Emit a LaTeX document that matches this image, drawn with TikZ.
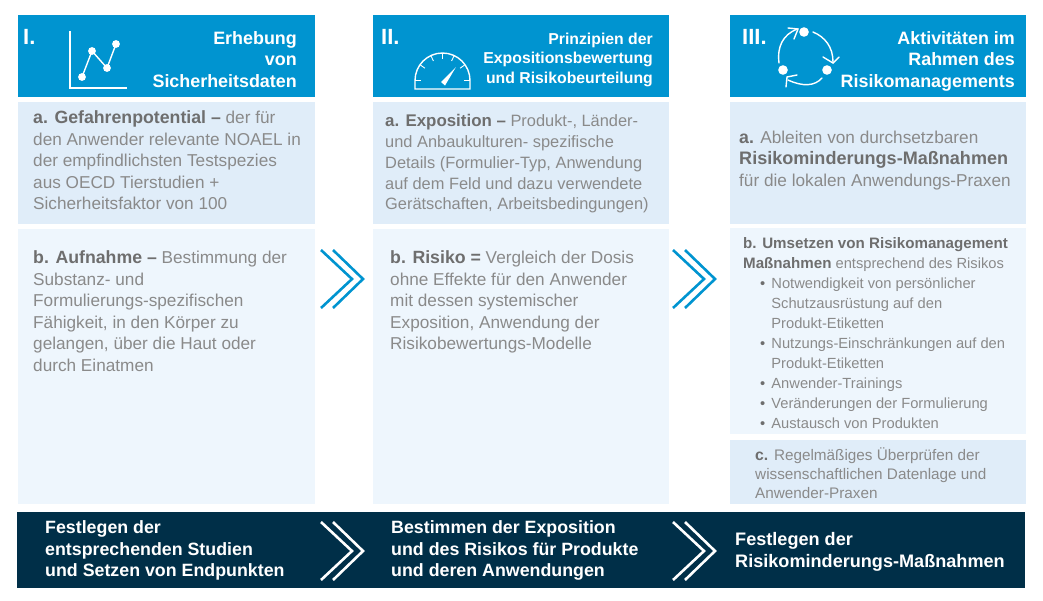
\documentclass[tikz,border=0pt]{standalone}
\usepackage{fontspec}
\setmainfont{Liberation Sans}
\newfontfamily\bbf[Scale=1.03]{Liberation Sans}
\newfontfamily\bbg[Scale=1.05]{Liberation Sans}
\definecolor{hdr}{HTML}{0094D0}
\definecolor{pa}{HTML}{E0EDF9}
\definecolor{pb}{HTML}{EEF6FD}
\definecolor{navy}{HTML}{002F48}
\definecolor{txt}{HTML}{8A8A8A}
\definecolor{bld}{HTML}{6E6E6E}
\newcommand{\B}[1]{{\bbf\bfseries\color{bld}#1}}
\newcommand{\G}[1]{{\bbg\bfseries\color{bld}#1}}
\newcommand{\Bu}{\makebox[11.2pt][l]{\color{bld}•}}
\newcommand{\Chev}[3]{%
 \draw[#3,line width=2.6pt,miter limit=10] (#1,#2-29) -- (#1+31,#2) -- (#1,#2+29);
 \draw[#3,line width=2.6pt,miter limit=10] (#1+12,#2-29) -- (#1+42,#2) -- (#1+12,#2+29);}
\tikzset{
 body/.style={inner sep=0pt,anchor=north west,align=left,text=txt,font=\fontsize{17.2}{21.6}\selectfont},
 small/.style={body,font=\fontsize{14.7}{20}\selectfont},
 smallc/.style={body,font=\fontsize{15.3}{19}\selectfont},
 head/.style={inner sep=0pt,anchor=north east,align=right,text=white,font=\bfseries\fontsize{17.9}{21.6}\selectfont},
 headb/.style={head,font=\bfseries\fontsize{15.8}{19.6}\selectfont},
 num/.style={inner sep=0pt,anchor=north west,text=white,font=\bfseries\fontsize{22}{24}\selectfont},
 foot/.style={inner sep=0pt,anchor=north west,align=left,text=white,font=\bfseries\fontsize{17.8}{21.6}\selectfont},
 icon/.style={draw=white,line width=1.4pt},
 iconthin/.style={draw=white,line width=0.9pt},
}
\begin{document}
\begin{tikzpicture}[x=1pt,y=-1pt]
\useasboundingbox (0,0) rectangle (1043,600);
% headers
\fill[hdr] (18,15) rectangle (315,97);
\fill[hdr] (373,15) rectangle (669,97);
\fill[hdr] (730,15) rectangle (1026,97);
% panels
\fill[pa] (18,102) rectangle (315,224);
\fill[pb] (18,229) rectangle (315,504);
\fill[pa] (373,102) rectangle (669,224);
\fill[pb] (373,229) rectangle (669,504);
\fill[pa] (730,102) rectangle (1026,224);
\fill[pb] (730,228) rectangle (1026,434);
\fill[pa] (730,440) rectangle (1026,504);
\fill[navy] (17,512) rectangle (1025,588);
% numerals
\node[num] (n1) at (23,29) {I.};
\node[num] (n2) at (381,29) {II.};
\node[num] (n3) at (742,29) {III.};
% header text
\node[head] (h1) at (297,31) {Erhebung\\von\\Sicherheitsdaten};
\node[headb] (h2) at (653,32.5) {Prinzipien der\\Expositionsbewertung\\und Risikobeurteilung};
\node[head] (h3) at (1015,31) {Aktivitäten im\\Rahmen des\\Risikomanagements};
% icon I
\draw[icon] (70,31) -- (70,88) -- (127,88);
\draw[icon] (82,77) -- (92,51) -- (107,68) -- (116,44);
\foreach \p in {(82,77),(92,51),(107,68),(116,44)} \fill[white] \p circle (3.9);
% icon II
\draw[icon] (415,89) -- (470,89) -- (470,80.5) arc (0:-180:27.5) -- cycle;
\foreach \a in {0,35,65,90,115,145,180} \draw[iconthin] (442.5,80.5) ++(-\a:27.5) -- ++(-\a:-6);
\fill[white] (441,82) -- (456,67) -- (445,85.5) -- cycle;
% icon III
\fill[white] (804,32) circle (4.8);
\fill[white] (827,70) circle (4.8);
\fill[white] (783,70) circle (4.8);
\draw[icon,line cap=round] (813,32) .. controls (825,37) and (833,47) .. (833,62);
\draw[icon,line cap=round] (823,57) -- (833,63) -- (839,57);
\draw[icon,line cap=round] (822,78) .. controls (815,86) and (803,87) .. (788,80);
\draw[icon,line cap=round] (786,87) -- (787,77) -- (797,75);
\draw[icon,line cap=round] (779,63) .. controls (777,46) and (783,35) .. (797,29);
\draw[icon,line cap=round] (788,28) -- (798,29) -- (794,39);
% body
\node[body] (a1) at (33,110.5) {\B{a. Gefahrenpotential –} der für\\den Anwender relevante NOAEL in\\der empfindlichsten Testspezies\\aus OECD Tierstudien +\\Sicherheitsfaktor von 100};
\node[body] (b1) at (33,250.5) {\B{b. Aufnahme –} Bestimmung der\\Substanz- und\\Formulierungs-spezifischen\\Fähigkeit, in den Körper zu\\gelangen, über die Haut oder\\durch Einatmen};
\node[body,font=\fontsize{16.4}{20.7}\selectfont] (a2) at (385,114.5) {\B{a. Exposition –} Produkt-, Länder-\\und Anbaukulturen- spezifische\\Details (Formulier-Typ, Anwendung\\auf dem Feld und dazu verwendete\\Gerätschaften, Arbeitsbedingungen)};
\node[body] (b2) at (390,250.5) {\B{b. Risiko =} Vergleich der Dosis\\ohne Effekte für den Anwender\\mit dessen systemischer\\Exposition, Anwendung der\\Risikobewertungs-Modelle};
\node[body] (a3) at (739,130.5) {\B{a.} Ableiten von durchsetzbaren\\\G{Risikominderungs-Maßnahmen}\\für die lokalen Anwendungs-Praxen};
\node[small] (b3) at (743,237) {\B{b. Umsetzen von Risikomanagement}\\\B{Maßnahmen} entsprechend des Risikos};
\node[small] (l1) at (760,277.5) {\Bu Notwendigkeit von persönlicher\\\hspace*{11.2pt}Schutzausrüstung auf den\\\hspace*{11.2pt}Produkt-Etiketten\\\Bu Nutzungs-Einschränkungen auf den\\\hspace*{11.2pt}Produkt-Etiketten\\\Bu Anwender-Trainings\\\Bu Veränderungen der Formulierung\\\Bu Austausch von Produkten};
\node[smallc] (c3) at (755,447) {\B{c.} Regelmäßiges Überprüfen der\\wissenschaftlichen Datenlage und\\Anwender-Praxen};
% footer
\node[foot] (f1) at (45,520.5) {Festlegen der\\entsprechenden Studien\\und Setzen von Endpunkten};
\node[foot] (f2) at (391,520.5) {Bestimmen der Exposition\\und des Risikos für Produkte\\und deren Anwendungen};
\node[foot,font=\bfseries\fontsize{18.1}{21.6}\selectfont] (f3) at (735,532.5) {Festlegen der\\Risikominderungs-Maßnahmen};
% chevrons
\Chev{321}{279}{hdr}
\Chev{673}{279}{hdr}
\Chev{321}{551}{white}
\Chev{673}{551}{white}
\end{tikzpicture}
\end{document}
